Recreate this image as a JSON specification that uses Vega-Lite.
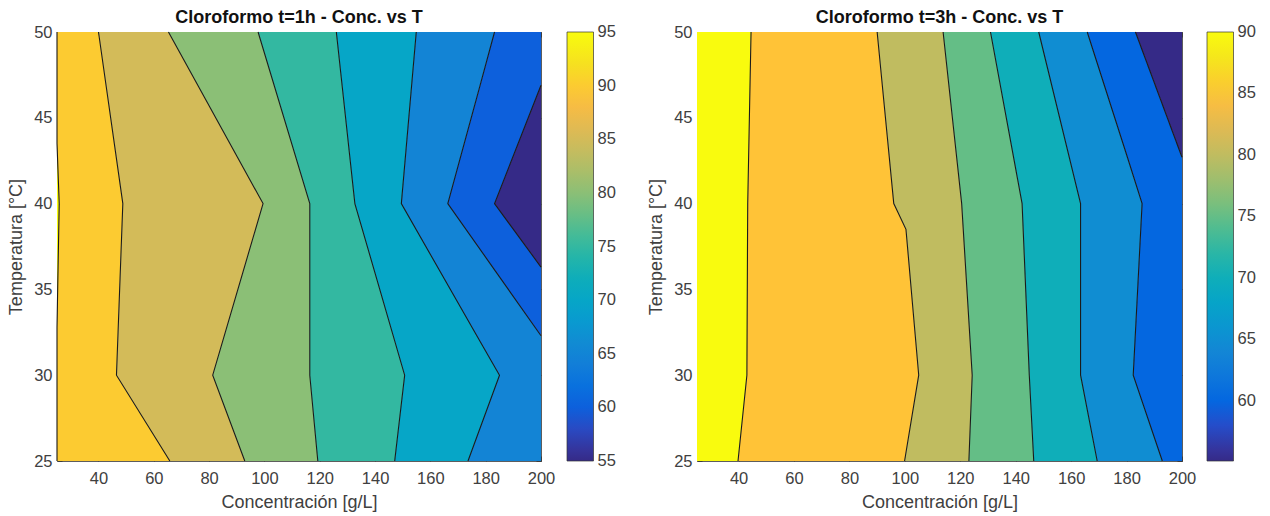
{
  "$schema": "https://vega.github.io/schema/vega-lite/v6.json",
  "background": "white",
  "padding": {"left": 7, "top": 9, "right": 5, "bottom": 5},
  "bounds": "flush",
  "spacing": 156,
  "config": {
    "font": "Liberation Sans",
    "view": {"stroke": null},
    "axis": {
      "grid": false,
      "domainColor": "#333333",
      "domainWidth": 0.8,
      "tickColor": "#333333",
      "tickWidth": 0.8,
      "tickSize": -5,
      "labelFont": "Liberation Sans",
      "labelFontSize": 16.5,
      "labelColor": "#404040",
      "labelFlush": false,
      "labelOverlap": false,
      "titleFont": "Liberation Sans",
      "titleFontSize": 18,
      "titleFontWeight": "normal",
      "titleColor": "#404040"
    },
    "title": {
      "font": "Liberation Sans",
      "fontSize": 18,
      "fontWeight": "bold",
      "color": "#111111",
      "frame": "group",
      "anchor": "middle",
      "baseline": "alphabetic",
      "offset": -3
    }
  },
  "datasets": {
    "t1": [
      {"level": 95, "temp": 32.8, "conc_lo": 25, "conc_hi": 25},
      {"level": 95, "temp": 40, "conc_lo": 25, "conc_hi": 25.8},
      {"level": 95, "temp": 43.5, "conc_lo": 25, "conc_hi": 25},
      {"level": 90, "temp": 25, "conc_lo": 25, "conc_hi": 65.8},
      {"level": 90, "temp": 30, "conc_lo": 25, "conc_hi": 46.5},
      {"level": 90, "temp": 32.8, "conc_lo": 25, "conc_hi": 47.1},
      {"level": 90, "temp": 40, "conc_lo": 25.8, "conc_hi": 48.8},
      {"level": 90, "temp": 43.5, "conc_lo": 25, "conc_hi": 45.7},
      {"level": 90, "temp": 50, "conc_lo": 25, "conc_hi": 40.0},
      {"level": 85, "temp": 25, "conc_lo": 65.8, "conc_hi": 92.9},
      {"level": 85, "temp": 30, "conc_lo": 46.5, "conc_hi": 81.3},
      {"level": 85, "temp": 40, "conc_lo": 48.8, "conc_hi": 99.5},
      {"level": 85, "temp": 50, "conc_lo": 40.0, "conc_hi": 65.3},
      {"level": 80, "temp": 25, "conc_lo": 92.9, "conc_hi": 119.3},
      {"level": 80, "temp": 30, "conc_lo": 81.3, "conc_hi": 116.4},
      {"level": 80, "temp": 40, "conc_lo": 99.5, "conc_hi": 116.4},
      {"level": 80, "temp": 50, "conc_lo": 65.3, "conc_hi": 97.7},
      {"level": 75, "temp": 25, "conc_lo": 119.3, "conc_hi": 147.1},
      {"level": 75, "temp": 30, "conc_lo": 116.4, "conc_hi": 150.7},
      {"level": 75, "temp": 40, "conc_lo": 116.4, "conc_hi": 132.7},
      {"level": 75, "temp": 50, "conc_lo": 97.7, "conc_hi": 126.0},
      {"level": 70, "temp": 25, "conc_lo": 147.1, "conc_hi": 173.6},
      {"level": 70, "temp": 30, "conc_lo": 150.7, "conc_hi": 185.0},
      {"level": 70, "temp": 40, "conc_lo": 132.7, "conc_hi": 149.5},
      {"level": 70, "temp": 50, "conc_lo": 126.0, "conc_hi": 154.9},
      {"level": 65, "temp": 25, "conc_lo": 173.6, "conc_hi": 200},
      {"level": 65, "temp": 30, "conc_lo": 185.0, "conc_hi": 200},
      {"level": 65, "temp": 32.3, "conc_lo": 176.8, "conc_hi": 200},
      {"level": 65, "temp": 40, "conc_lo": 149.5, "conc_hi": 166.3},
      {"level": 65, "temp": 50, "conc_lo": 154.9, "conc_hi": 183.2},
      {"level": 60, "temp": 32.3, "conc_lo": 200, "conc_hi": 200},
      {"level": 60, "temp": 36.3, "conc_lo": 182.5, "conc_hi": 200},
      {"level": 60, "temp": 40, "conc_lo": 166.3, "conc_hi": 183.2},
      {"level": 60, "temp": 46.9, "conc_lo": 178.0, "conc_hi": 200},
      {"level": 60, "temp": 50, "conc_lo": 183.2, "conc_hi": 200},
      {"level": 55, "temp": 36.3, "conc_lo": 200, "conc_hi": 200},
      {"level": 55, "temp": 40, "conc_lo": 183.2, "conc_hi": 200},
      {"level": 55, "temp": 46.9, "conc_lo": 200, "conc_hi": 200}
    ],
    "t3": [
      {"level": 90, "temp": 25, "conc_lo": 25, "conc_hi": 39.8},
      {"level": 90, "temp": 30, "conc_lo": 25, "conc_hi": 43.0},
      {"level": 90, "temp": 40, "conc_lo": 25, "conc_hi": 43.3},
      {"level": 90, "temp": 50, "conc_lo": 25, "conc_hi": 44.5},
      {"level": 85, "temp": 25, "conc_lo": 39.8, "conc_hi": 99.9},
      {"level": 85, "temp": 30, "conc_lo": 43.0, "conc_hi": 105.0},
      {"level": 85, "temp": 38.5, "conc_lo": 43.25, "conc_hi": 100.4},
      {"level": 85, "temp": 40, "conc_lo": 43.3, "conc_hi": 96.0},
      {"level": 85, "temp": 50, "conc_lo": 44.5, "conc_hi": 90.0},
      {"level": 80, "temp": 25, "conc_lo": 99.9, "conc_hi": 123.1},
      {"level": 80, "temp": 30, "conc_lo": 105.0, "conc_hi": 124.3},
      {"level": 80, "temp": 38.5, "conc_lo": 100.4, "conc_hi": 121.1},
      {"level": 80, "temp": 40, "conc_lo": 96.0, "conc_hi": 120.5},
      {"level": 80, "temp": 50, "conc_lo": 90.0, "conc_hi": 113.8},
      {"level": 75, "temp": 25, "conc_lo": 123.1, "conc_hi": 146.5},
      {"level": 75, "temp": 30, "conc_lo": 124.3, "conc_hi": 144.9},
      {"level": 75, "temp": 40, "conc_lo": 120.5, "conc_hi": 142.3},
      {"level": 75, "temp": 50, "conc_lo": 113.8, "conc_hi": 130.9},
      {"level": 70, "temp": 25, "conc_lo": 146.5, "conc_hi": 169.4},
      {"level": 70, "temp": 30, "conc_lo": 144.9, "conc_hi": 163.4},
      {"level": 70, "temp": 40, "conc_lo": 142.3, "conc_hi": 163.4},
      {"level": 70, "temp": 50, "conc_lo": 130.9, "conc_hi": 148.3},
      {"level": 65, "temp": 25, "conc_lo": 169.4, "conc_hi": 192.9},
      {"level": 65, "temp": 30, "conc_lo": 163.4, "conc_hi": 182.4},
      {"level": 65, "temp": 40, "conc_lo": 163.4, "conc_hi": 185.6},
      {"level": 65, "temp": 50, "conc_lo": 148.3, "conc_hi": 165.8},
      {"level": 60, "temp": 25, "conc_lo": 192.9, "conc_hi": 200},
      {"level": 60, "temp": 30, "conc_lo": 182.4, "conc_hi": 200},
      {"level": 60, "temp": 40, "conc_lo": 185.6, "conc_hi": 200},
      {"level": 60, "temp": 42.7, "conc_lo": 180.3, "conc_hi": 200},
      {"level": 60, "temp": 50, "conc_lo": 165.8, "conc_hi": 183.2},
      {"level": 55.1, "temp": 42.7, "conc_lo": 200, "conc_hi": 200},
      {"level": 55.1, "temp": 50, "conc_lo": 183.2, "conc_hi": 200}
    ]
  },
  "resolve": {
    "scale": {"color": "independent", "x": "independent", "y": "independent"},
    "legend": {"color": "independent"}
  },
  "hconcat": [
    {
      "width": 484,
      "height": 429,
      "title": "Cloroformo t=1h - Conc. vs T",
      "data": {"name": "t1"},
      "resolve": {"axis": {"x": "independent", "y": "independent"}},
      "layer": [
        {
          "mark": {"type": "area", "orient": "horizontal"},
          "encoding": {
            "y": {
              "field": "temp", "type": "quantitative",
              "scale": {"domain": [25, 50], "nice": false, "zero": false},
              "axis": {"orient": "left", "values": [25, 30, 35, 40, 45, 50], "labelPadding": 10, "titlePadding": 8},
              "title": "Temperatura [°C]"
            },
            "x": {
              "field": "conc_lo", "type": "quantitative", "stack": null,
              "scale": {"domain": [25, 200], "nice": false, "zero": false},
              "axis": {"orient": "bottom", "values": [40, 60, 80, 100, 120, 140, 160, 180, 200], "labelPadding": 14, "titlePadding": 7},
              "title": "Concentración [g/L]"
            },
            "x2": {"field": "conc_hi"},
            "color": {
              "field": "level", "type": "quantitative",
              "scale": {
                "domain": [54.999, 95.001], "nice": false, "zero": false, "interpolate": "rgb",
                "range": ["#352A87", "#353DAD", "#2053D4", "#0268E1", "#0D75DC", "#1481D6", "#108ED2", "#079CCF", "#06A7C6", "#0FAEB9", "#25B5A9", "#42BB98", "#65BE86", "#87BF77", "#A5BE6B", "#C0BC60", "#D9BA56", "#F1B94A", "#FFC337", "#F7D826", "#F5EB18", "#F9FB0E"]
              },
              "legend": {
                "orient": "none", "legendX": 510, "legendY": 0, "title": null, "padding": 0,
                "direction": "vertical", "gradientLength": 429, "gradientThickness": 26.5,
                "gradientStrokeColor": "#333333", "gradientStrokeWidth": 0.7,
                "values": [55, 60, 65, 70, 75, 80, 85, 90, 95],
                "labelFont": "Liberation Sans", "labelFontSize": 16.5, "labelColor": "#404040",
                "labelOffset": 4, "labelOverlap": false
              }
            }
          }
        },
        {
          "transform": [{"filter": "datum.level < 95"}],
          "mark": {"type": "line", "color": "#1a1a1a", "strokeWidth": 1.1},
          "encoding": {
            "y": {
              "field": "temp", "type": "quantitative",
              "axis": {"orient": "right", "values": [25, 30, 35, 40, 45, 50], "labels": false, "title": null}
            },
            "x": {
              "field": "conc_lo", "type": "quantitative",
              "axis": {"orient": "top", "values": [40, 60, 80, 100, 120, 140, 160, 180, 200], "labels": false, "title": null}
            },
            "detail": {"field": "level", "type": "nominal"},
            "order": {"field": "temp", "type": "quantitative"}
          }
        }
      ]
    },
    {
      "width": 485,
      "height": 429,
      "title": "Cloroformo t=3h - Conc. vs T",
      "data": {"name": "t3"},
      "resolve": {"axis": {"x": "independent", "y": "independent"}},
      "layer": [
        {
          "mark": {"type": "area", "orient": "horizontal"},
          "encoding": {
            "y": {
              "field": "temp", "type": "quantitative",
              "scale": {"domain": [25, 50], "nice": false, "zero": false},
              "axis": {"orient": "left", "values": [25, 30, 35, 40, 45, 50], "labelPadding": 10, "titlePadding": 8},
              "title": "Temperatura [°C]"
            },
            "x": {
              "field": "conc_lo", "type": "quantitative", "stack": null,
              "scale": {"domain": [25, 200], "nice": false, "zero": false},
              "axis": {"orient": "bottom", "values": [40, 60, 80, 100, 120, 140, 160, 180, 200], "labelPadding": 14, "titlePadding": 7},
              "title": "Concentración [g/L]"
            },
            "x2": {"field": "conc_hi"},
            "color": {
              "field": "level", "type": "quantitative",
              "scale": {
                "domain": [55.1, 90.001], "nice": false, "zero": false, "interpolate": "rgb",
                "range": ["#352A87", "#353DAD", "#2053D4", "#0268E1", "#0D75DC", "#1481D6", "#108ED2", "#079CCF", "#06A7C6", "#0FAEB9", "#25B5A9", "#42BB98", "#65BE86", "#87BF77", "#A5BE6B", "#C0BC60", "#D9BA56", "#F1B94A", "#FFC337", "#F7D826", "#F5EB18", "#F9FB0E"]
              },
              "legend": {
                "orient": "none", "legendX": 510, "legendY": 0, "title": null, "padding": 0,
                "direction": "vertical", "gradientLength": 429, "gradientThickness": 26.5,
                "gradientStrokeColor": "#333333", "gradientStrokeWidth": 0.7,
                "values": [60, 65, 70, 75, 80, 85, 90],
                "labelFont": "Liberation Sans", "labelFontSize": 16.5, "labelColor": "#404040",
                "labelOffset": 4, "labelOverlap": false
              }
            }
          }
        },
        {
          "transform": [{"filter": "datum.level < 90"}],
          "mark": {"type": "line", "color": "#1a1a1a", "strokeWidth": 1.1},
          "encoding": {
            "y": {
              "field": "temp", "type": "quantitative",
              "axis": {"orient": "right", "values": [25, 30, 35, 40, 45, 50], "labels": false, "title": null}
            },
            "x": {
              "field": "conc_lo", "type": "quantitative",
              "axis": {"orient": "top", "values": [40, 60, 80, 100, 120, 140, 160, 180, 200], "labels": false, "title": null}
            },
            "detail": {"field": "level", "type": "nominal"},
            "order": {"field": "temp", "type": "quantitative"}
          }
        }
      ]
    }
  ]
}
